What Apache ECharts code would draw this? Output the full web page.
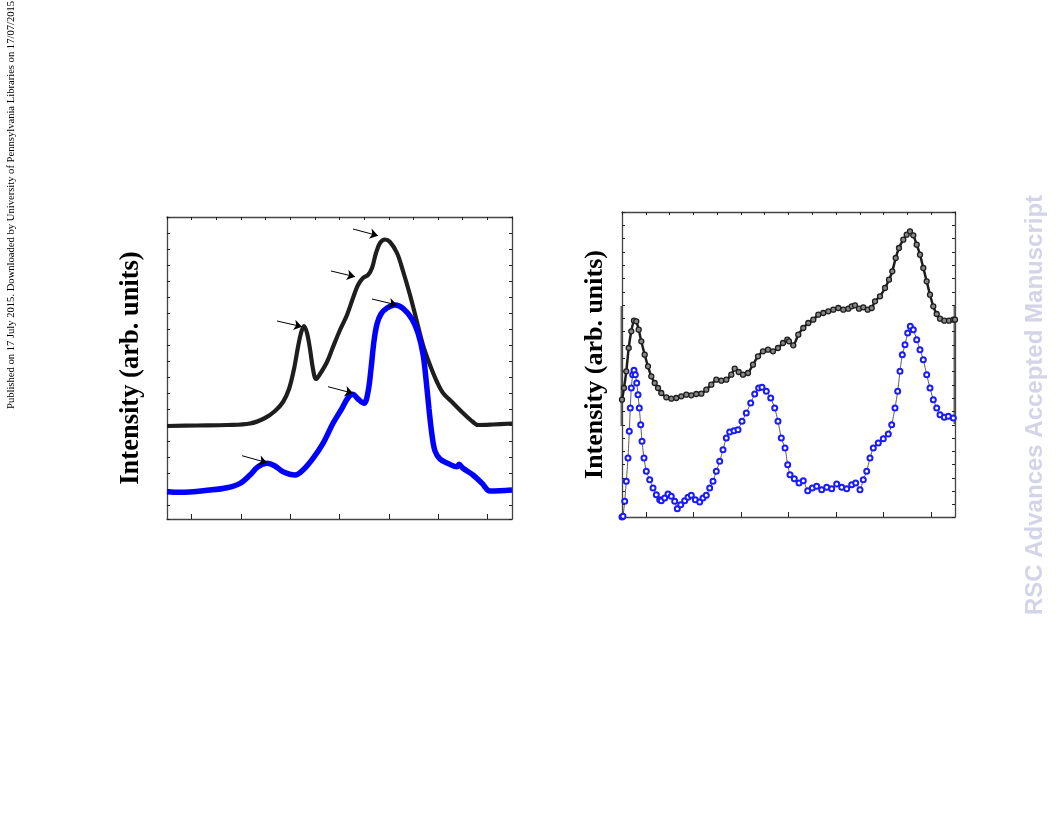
<!DOCTYPE html>
<html><head><meta charset="utf-8">
<script src="https://cdn.jsdelivr.net/npm/echarts@6/dist/echarts.min.js"></script>
<style>html,body{margin:0;padding:0;background:#fff}#c{width:1056px;height:816px}</style>
</head><body><div id="c"></div>
<script>
// ---- Left panel data (channel, intensity in arb. units) ----
const leftBlack = [[0,93],[30,93.5],[60,94],[83,95.5],[98,101],[108,108],[116,117],[122,130],[127,150],[131,172],[134,186],[137,193],[140,186],[143,170],[146,150],[149,140],[153,145],[160,157],[166,172],[173,189],[180,204],[186,221],[191,234],[196,241],[201,244],[205,251],[209,266],[213,276],[218,279.5],[223,277],[230,266],[236,248],[243,224],[250,197],[256,174],[263,154],[270,137],[276,126],[286,116],[296,106],[306,97],[311,94],[326,94.5],[345,95.5]];
const leftBlue = [[0,27.3],[13,26.7],[43,29],[60,31.3],[73,35.7],[83,44],[91,52.3],[100,55.7],[108,53],[116,47.3],[128,44],[136,49],[146,60.7],[156,75.7],[166,95.7],[175,110.7],[181,121.3],[186,124.7],[191,120],[197,115.7],[201,127],[204,150],[207,178],[210,195],[214,205],[220,211],[228,214],[236,210.7],[245,200],[251,186],[256,165],[259,140],[262,110],[265,84],[268,68],[273,60],[280,56],[290,52.3],[292,54.7],[296,50.7],[306,44],[315,35.7],[323,28],[333,28.3],[345,29]];
// arrows: [start, end]
const leftArrows = [[[186,290],[211,283.3]],[[164,248],[188,242.3]],[[110,198],[135,192.3]],[[205,220],[230,214]],[[161,132.3],[186,125.7]],[[75,63.3],[100,56.3]]];

// ---- Right panel data ----
const rightBlack = [[0,117.3],[2,129],[4.3,145.7],[6.7,169],[9.3,185.7],[12,196.3],[14.3,195.7],[16.7,187.3],[19.3,175.7],[22.7,162.3],[26,150.7],[29.3,140.7],[32.7,134],[36,129],[39.3,124],[44.3,119.7],[49.3,118.3],[54.3,119],[59.3,120.7],[64.3,122.3],[69.3,121.7],[74.3,123],[79.3,123.3],[84.3,127.3],[89.3,132.3],[94.3,137.3],[99.3,136.3],[104.3,137.3],[109.3,142.3],[112.7,148.3],[116.7,145],[121,142.3],[126,144],[131,152.3],[136,160.7],[141,165.7],[146,167.3],[151,165.7],[156,169],[161,174],[165.3,177.3],[167,175.7],[171.3,171.7],[176.3,182.3],[181.3,189],[186.3,194],[191.3,197.3],[196.3,202.3],[201.3,204],[206.3,205.7],[211.3,207.3],[216.3,209],[221.3,207.3],[226.3,208.3],[229.7,210.7],[233,211.7],[237,208.3],[241.3,209.7],[245.7,207.3],[249.7,209],[253,215.7],[258,220.7],[263,229],[267,237.3],[270.3,245.7],[273.7,259],[277,269],[281.3,277.3],[284.7,282.3],[288,285.7],[291.3,281.7],[294.7,272.3],[298,262.3],[301.3,249],[304.7,235.7],[308,222.3],[311.3,210.7],[314.7,203],[318,198.3],[322.3,196.3],[327,196.3],[331.3,197.3],[333,197.3]];
const rightBlue = [[0,0],[1,0.7],[2.7,15.7],[4.3,35.7],[6,59],[7.3,85.7],[8.3,109],[9.3,129],[10.7,142.3],[12,146.7],[13.3,142.3],[14.7,134],[16,122.3],[17.3,109],[18.7,92.3],[20,75.7],[22,59],[24.3,45.7],[27.7,37.3],[31,29],[34.3,22.3],[37.7,17.3],[39.3,16.3],[42.7,19],[46,23],[49.3,20.7],[52.7,15.7],[55.3,8.3],[58.7,12.3],[62.7,16.3],[66,19.7],[69.3,21.7],[73.3,17.3],[77.7,15],[81,19],[84.3,21.7],[87.7,29],[91,35.7],[94.3,45.7],[97.7,55.7],[101,67.3],[104.3,79],[107.7,85],[112,86.3],[116,87.3],[120,95.7],[124.3,104],[128.7,114],[132.7,123],[136.7,129],[140,129.7],[144.3,125.7],[148.7,119],[152.7,109],[156,95.7],[159.3,79],[163,69],[165.7,52.3],[168,42.3],[172.3,38.3],[177,34],[181.3,36.3],[185.7,26.3],[190.3,29],[194.7,30.7],[199.7,27.3],[204.7,29.7],[209.7,28.3],[214.7,33],[219.7,29.7],[224.7,28.3],[229.7,32.3],[233.7,34],[238,27.3],[241.3,37.3],[244.7,45.7],[248,59],[251.3,69],[256.3,74],[261.3,78.3],[266.3,83],[269.7,92.3],[273,109],[275.7,125.7],[278,145.7],[280.3,162.3],[283,172.3],[285.7,184],[288.3,190.7],[291.3,187.3],[294.7,177.3],[298,167.3],[301.3,157.3],[304.7,142.3],[308,129],[311.3,117.3],[314.7,109],[318,102.3],[322.3,99.7],[326.3,100.7],[331.3,99]];

const tickSlots = ['0','1','2','3','4','5','6','7','8','9','10','11','12','13','14'];
const yTitle = 'Intensity (arb. units)';
const publishedNote = 'Published on 17 July 2015. Downloaded by University of Pennsylvania Libraries on 17/07/2015';
const watermark = 'RSC Advances Accepted Manuscript';

const frame = {color:'#444', width:1.3};
function dataX(g, max){ return {gridIndex:g, type:'value', min:0, max:max, show:false}; }
function dataY(g, max){ return {gridIndex:g, type:'value', min:0, max:max, show:false}; }
function tickX(g, pos, len, oddOnly){
  return {gridIndex:g, type:'category', data:tickSlots, boundaryGap:false, position:pos,
    axisLine:{show:true, onZero:false, lineStyle:frame},
    axisTick:{show:true, inside:true, length:len, interval: oddOnly ? function(i){return i%2===1;} : 0, lineStyle:{color:'#222', width:1}},
    axisLabel:{show:false}, splitLine:{show:false}};
}
function tickY(g, pos, max, nameGap, nameSize){
  const a = {gridIndex:g, type:'value', inverse:true, min:0, max:max, interval:1, position:pos,
    axisLine:{show:true, onZero:false, lineStyle:frame},
    axisTick:{show:true, inside:true, length:3, lineStyle:{color:'#222', width:1}},
    axisLabel:{show:false}, splitLine:{show:false}};
  if (nameGap != null) {
    a.name = yTitle; a.nameLocation = 'middle'; a.nameRotate = 90; a.nameGap = nameGap;
    a.nameTextStyle = {fontFamily:'Liberation Serif', fontWeight:'bold', fontSize:nameSize, color:'#000'};
  }
  return a;
}

const chart = echarts.init(document.getElementById('c'), null, {renderer:'canvas'});
chart.setOption({
  animation:false,
  backgroundColor:'#fff',
  grid:[
    {left:167, top:217, width:345, height:302},
    {left:622, top:212, width:333, height:305}
  ],
  xAxis:[dataX(0,345), tickX(0,'bottom',5,true), tickX(0,'top',3,false),
         dataX(1,333), tickX(1,'bottom',5,true), tickX(1,'top',3,false)],
  yAxis:[dataY(0,302), tickY(0,'left',18.85,22,26.5), tickY(0,'right',18.85),
         dataY(1,305), tickY(1,'left',22.93,14,26), tickY(1,'right',22.93)],
  series:[
    {type:'line', xAxisIndex:0, yAxisIndex:0, data:leftBlack, smooth:0.35, symbol:'none',
     lineStyle:{color:'#1e1e1e', width:4.2},
     markLine:{silent:true, symbol:['none','arrow'], symbolSize:8, label:{show:false},
       lineStyle:{color:'#000', width:1, type:'solid'},
       data: leftArrows.map(a => [{coord:a[0]},{coord:a[1]}])}},
    {type:'line', xAxisIndex:0, yAxisIndex:0, data:leftBlue, smooth:0.35, symbol:'none',
     lineStyle:{color:'#0000ff', width:5.5}},
    {type:'line', xAxisIndex:3, yAxisIndex:3, data:rightBlack, smooth:0.2, symbol:'circle', symbolSize:5, showAllSymbol:true,
     itemStyle:{color:'#888', borderColor:'#1e1e1e', borderWidth:1.3},
     lineStyle:{color:'#1e1e1e', width:2.5}},
    {type:'line', xAxisIndex:3, yAxisIndex:3, data:rightBlue, smooth:0.2, symbol:'emptyCircle', symbolSize:5, showAllSymbol:true,
     itemStyle:{color:'#1a1aff', borderColor:'#1a1aff', borderWidth:1.2},
     lineStyle:{color:'#333', width:0.8}}
  ],
  graphic:[
    {type:'text', x:11, y:409, rotation:Math.PI/2,
     style:{text:publishedNote, font:'10.6px "Liberation Serif"', fill:'#000', textAlign:'left', textVerticalAlign:'middle'}},
    {type:'text', x:1035, y:405, rotation:Math.PI/2,
     style:{text:watermark, font:'bold 24px "Liberation Sans"', fill:'#d4d4e8', textAlign:'center', textVerticalAlign:'middle'}},
    {type:'rect', shape:{x:620.5, y:306, width:2.2, height:120}, style:{fill:'#666'}},
    {type:'rect', shape:{x:953.5, y:306, width:2.2, height:118}, style:{fill:'#666'}}
  ]
});
</script></body></html>
